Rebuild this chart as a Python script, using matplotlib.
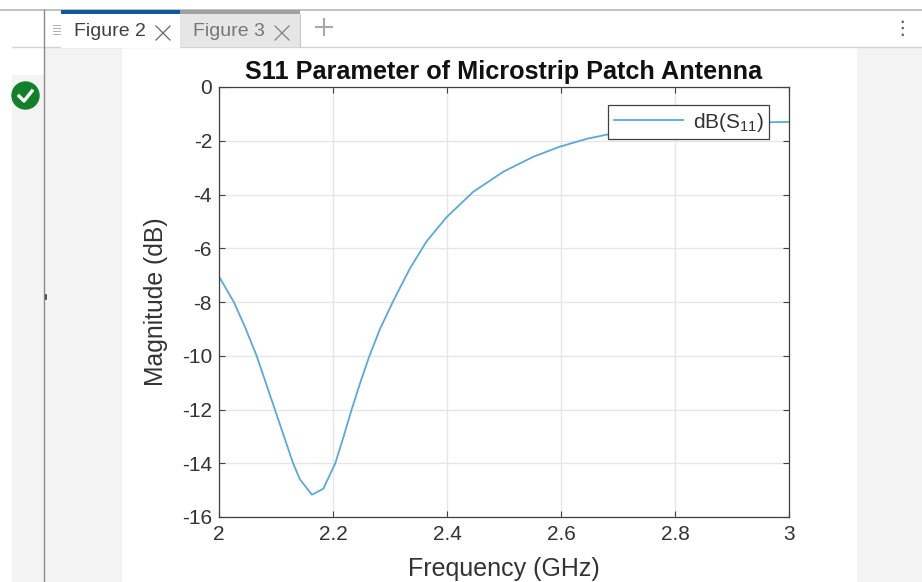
#!/usr/bin/env python3
"""S11 plot of a patch antenna, inside the figure window tabs."""

import matplotlib

matplotlib.use("Agg")
import matplotlib.pyplot as plt  # noqa: E402
from matplotlib.lines import Line2D  # noqa: E402
from matplotlib.patches import Ellipse, Rectangle  # noqa: E402

W, H = 922, 582

FREQ_GHZ = [2.0, 2.026, 2.046, 2.066, 2.082, 2.098, 2.114, 2.13, 2.142, 2.163, 2.183, 2.204,
            2.218, 2.232, 2.247, 2.264, 2.2825, 2.306, 2.335, 2.364, 2.399, 2.446, 2.499,
            2.551, 2.598, 2.645, 2.683, 2.75, 2.80, 2.90, 3.0]
S11_DB = [-7.05, -8.0, -8.95, -10.0, -11.0, -12.0, -13.0, -14.0, -14.6, -15.17, -14.95, -14.0,
          -13.05, -12.05, -11.05, -10.0, -9.0, -7.95, -6.75, -5.75, -4.85, -3.9, -3.15,
          -2.6, -2.22, -1.93, -1.76, -1.55, -1.45, -1.33, -1.3]
X_TICKS = [2, 2.2, 2.4, 2.6, 2.8, 3]
X_TICK_LABELS = ["2", "2.2", "2.4", "2.6", "2.8", "3"]
Y_TICKS = [0, -2, -4, -6, -8, -10, -12, -14, -16]
Y_TICK_LABELS = ["0", "-2", "-4", "-6", "-8", "-10", "-12", "-14", "-16"]

plt.rcParams.update(
    {
        "font.family": ["Liberation Sans", "DejaVu Sans"],
        "mathtext.default": "regular",
        "font.size": 13,
    }
)


def rect(fig, x0, y0, x1, y1, **kw):
    # pixel coordinates, y measured from the top
    fig.add_artist(Rectangle((x0 / W, 1 - y1 / H), (x1 - x0) / W, (y1 - y0) / H,
                             transform=fig.transFigure, linewidth=0, **kw))


def seg(fig, xs, ys, color, lw=1.0, zorder=3):
    fig.add_artist(Line2D([x / W for x in xs], [1 - y / H for y in ys], color=color,
                          linewidth=lw, zorder=zorder))


def label(fig, x, y, text, **kw):
    fig.text(x / W, 1 - y / H, text, va="center", **kw)


def close_mark(fig, x, y, color):
    seg(fig, [x - 7, x + 7], [y - 7, y + 7], color, 0.9)
    seg(fig, [x - 7, x + 7], [y + 7, y - 7], color, 0.9)


def draw_window(fig):
    # grey side panels
    rect(fig, 12, 75, 44, H, color="#f3f3f3", zorder=-2)
    rect(fig, 44, 47, 122, H, color="#f3f3f3", zorder=-2)
    rect(fig, 857, 47, W, H, color="#f3f3f3", zorder=-2)
    seg(fig, [0, W], [9.5, 9.5], "#b8b8b8", 1.2, zorder=0)
    seg(fig, [12, W], [47, 47], "#d4d4d4", 1.0, zorder=0)
    seg(fig, [44, 44], [10, H], "#8a8a8a", 1.0, zorder=0)

    # tabs
    rect(fig, 61, 13, 180, 48, color="white", zorder=1)
    rect(fig, 180, 13, 300, 47, color="#e6e6e6", zorder=1)
    rect(fig, 61, 10, 180, 14, color="#0f5a9c", zorder=2)
    rect(fig, 180, 10, 300, 14, color="#a0a0a0", zorder=2)
    seg(fig, [300, 300], [14, 47], "#c8c8c8", 0.8)
    label(fig, 74, 32, "Figure 2", fontsize=14, color="#404040", zorder=3)
    label(fig, 193, 32, "Figure 3", fontsize=14, color="#777777", zorder=3)
    close_mark(fig, 163, 33, "#666666")
    close_mark(fig, 282, 33, "#808080")
    seg(fig, [316, 332], [27, 27], "#a8a8a8", 1.5)
    seg(fig, [324, 324], [19, 35], "#a8a8a8", 1.5)
    for y in (25, 28, 31, 34):
        seg(fig, [53, 60], [y, y], "#b0b0b0", 0.7)
    label(fig, 902, 29, "\u22ee", fontsize=14, color="#555555", ha="center", zorder=3)

    # status badge
    fig.add_artist(Ellipse((25.5 / W, 1 - 95.5 / H), 27 / W, 27 / H, transform=fig.transFigure,
                           color="#12802b", zorder=3))
    seg(fig, [19, 24, 32], [96, 101, 91], "white", 2.4, zorder=4)
    # small mark on the left divider
    seg(fig, [45.5, 45.5], [295, 299], "#333333", 1.2)


def main():
    fig = plt.figure(figsize=(W / 100, H / 100), dpi=100, facecolor="white")
    draw_window(fig)

    ax = fig.add_axes([219 / W, 1 - 517 / H, (789 - 219) / W, (517 - 87) / H])
    ax.plot(FREQ_GHZ, S11_DB, color="#5aa9dc", linewidth=1.3, label=r"dB(S$_{11}$)")
    ax.set_xlim(2, 3)
    ax.set_ylim(-16, 0)
    ax.set_xticks(X_TICKS, X_TICK_LABELS)
    ax.set_yticks(Y_TICKS, Y_TICK_LABELS)
    ax.grid(True, color="#e6e6e6", linewidth=1.0)
    ax.set_axisbelow(True)
    ax.tick_params(direction="in", length=4, width=0.8, color="#404040", labelcolor="#333333",
                   labelsize=15, top=True, right=True)
    ax.tick_params(axis="x", pad=6)
    ax.tick_params(axis="y", pad=5)
    for spine in ax.spines.values():
        spine.set_color("#404040")
        spine.set_linewidth(0.9)
    ax.set_xlabel("Frequency (GHz)", fontsize=18, color="#333333", labelpad=9)
    ax.set_ylabel("Magnitude (dB)", fontsize=17.8, color="#333333", labelpad=10)
    ax.set_title("S11 Parameter of Microstrip Patch Antenna", fontsize=18.2, fontweight="bold",
                 color="#111111", pad=6)

    leg = ax.legend(loc="upper left", bbox_to_anchor=(608 / W, 1 - 105 / H),
                    bbox_transform=fig.transFigure, fontsize=15, fancybox=False, framealpha=1,
                    edgecolor="#404040", borderaxespad=0, handlelength=3.35, borderpad=0.27,
                    handletextpad=0.45)
    leg.get_frame().set_linewidth(0.9)
    for text in leg.get_texts():
        text.set_color("#333333")

    fig.savefig("out.png", dpi=100)
    plt.close(fig)


if __name__ == "__main__":
    main()
